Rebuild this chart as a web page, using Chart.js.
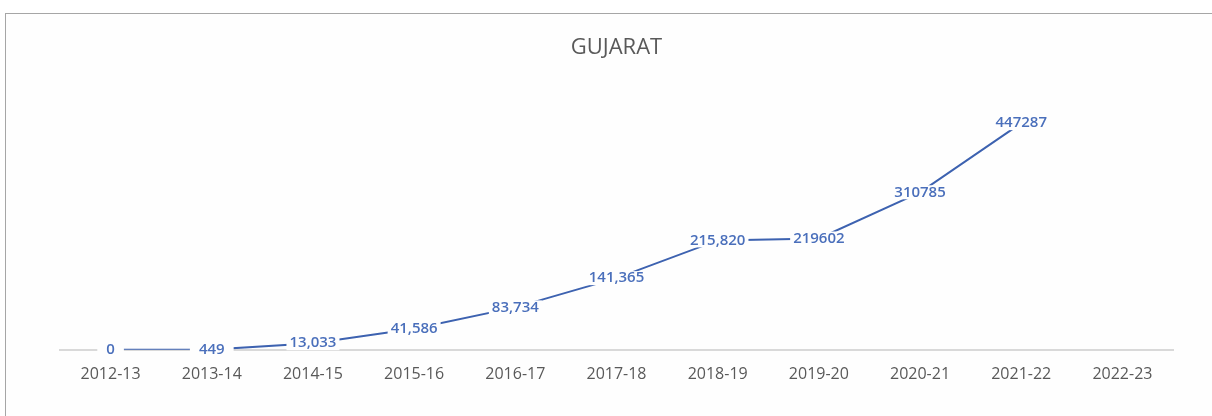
<!DOCTYPE html>
<html>
<head>
<meta charset="utf-8">
<script src="https://cdn.jsdelivr.net/npm/chart.js@4"></script>
<style>
    html, body { margin: 0; padding: 0; background: #ffffff; overflow: hidden; }
    #frame {
        position: absolute; left: 5px; top: 13px;
        width: 1240px; height: 440px;
        border: 1px solid #a6a6a6;
        background: #fefefe;
    }
    #wrap { position: absolute; left: 0; top: 0; width: 1212px; height: 416px; }
</style>
</head>
<body>
<div id="frame"></div>
<div id="wrap"><canvas id="chart" width="1212" height="416"></canvas></div>
<script>
// categories and values
const years = ['2012-13', '2013-14', '2014-15', '2015-16', '2016-17', '2017-18',
               '2018-19', '2019-20', '2020-21', '2021-22', '2022-23'];
const values = [0, 449, 13033, 41586, 83734, 141365, 215820, 219602, 310785, 447287, null];
// point labels as printed on the chart (formatting differs between points)
const pointLabels = ['0', '449', '13,033', '41,586', '83,734', '141,365',
                     '215,820', '219602', '310785', '447287', ''];

const LINE_BLUE = '#3d62b0';
const LABEL_BLUE = '#4a6fbb';

// draws the value labels centred on each point, on a white box like Excel does
const pointLabelPlugin = {
    id: 'pointLabels',
    afterDatasetsDraw(chart) {
        const ctx = chart.ctx;
        const meta = chart.getDatasetMeta(0);
        ctx.save();
        ctx.font = '600 15px "Open Sans", sans-serif';
        ctx.textAlign = 'center';
        ctx.textBaseline = 'middle';
        meta.data.forEach((pt, i) => {
            const text = pointLabels[i];
            if (!text || values[i] === null) return;
            const w = ctx.measureText(text).width;
            const padX = text.length < 4 ? 9 : 3;
            ctx.fillStyle = '#fefefe';
            ctx.fillRect(pt.x - w / 2 - padX, pt.y - 7, w + padX * 2, 14);
            ctx.fillStyle = LABEL_BLUE;
            ctx.fillText(text, pt.x, pt.y);
        });
        ctx.restore();
    }
};

const ctx = document.getElementById('chart').getContext('2d');
const chart = new Chart(ctx, {
    type: 'line',
    data: {
        labels: years,
        datasets: [{
            label: 'GUJARAT',
            data: values,
            borderColor: LINE_BLUE,
            borderWidth: 2,
            pointRadius: 0,
            tension: 0,
            fill: false
        }]
    },
    options: {
        responsive: false,
        animation: false,
        layout: {
            padding: { left: 60, right: 39, bottom: 17, top: 0 }
        },
        scales: {
            x: {
                offset: true,
                grid: { display: false, drawTicks: false },
                border: { display: true, color: '#d9d9d9', width: 2 },
                ticks: {
                    padding: 15,
                    color: '#595959',
                    font: { family: '"Open Sans", sans-serif', size: 16 },
                    maxRotation: 0,
                    autoSkip: false
                }
            },
            y: {
                display: false,
                min: 0,
                max: 500000
            }
        },
        plugins: {
            legend: { display: false },
            tooltip: { enabled: false },
            title: {
                display: true,
                text: 'GUJARAT',
                color: '#595959',
                font: { family: '"Open Sans", sans-serif', size: 22, weight: 'normal' },
                padding: { top: 35, bottom: 35 }
            }
        }
    },
    plugins: [pointLabelPlugin]
});
</script>
</body>
</html>
